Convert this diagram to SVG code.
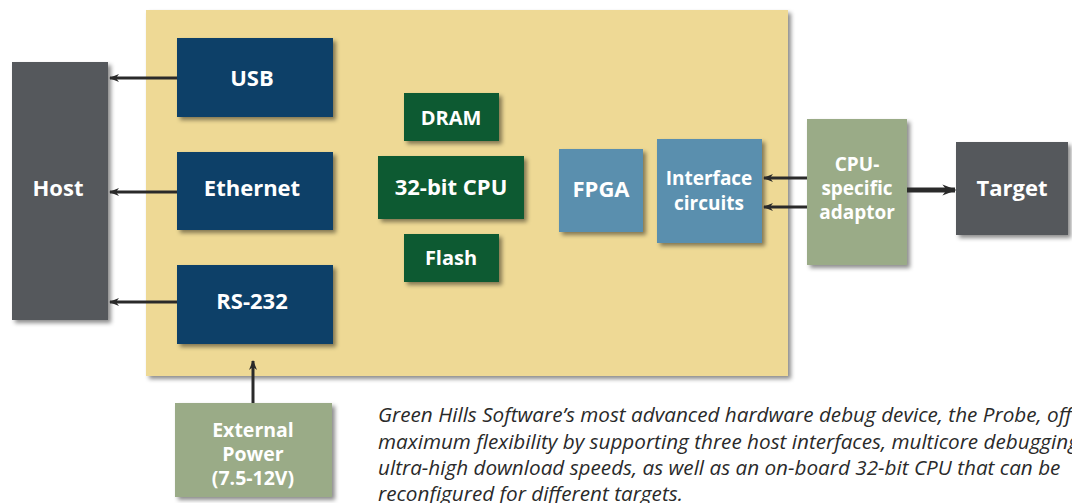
<svg xmlns="http://www.w3.org/2000/svg" width="1072" height="503" viewBox="0 0 1072 503">
<defs>
<filter id="sh" x="-10%" y="-10%" width="130%" height="130%">
<feDropShadow dx="3" dy="3" stdDeviation="2" flood-color="#000" flood-opacity="0.45"/>
</filter>
<marker id="ah" viewBox="0 0 10 10" refX="9" refY="5" markerWidth="10" markerHeight="10" markerUnits="userSpaceOnUse" orient="auto">
<path d="M0,1 L10,5 L0,9 L3,5 Z" fill="#2a2a2a"/>
</marker>
<marker id="ahb" viewBox="0 0 10 10" refX="9" refY="5" markerWidth="14" markerHeight="14" markerUnits="userSpaceOnUse" orient="auto">
<path d="M0,1 L10,5 L0,9 L3,5 Z" fill="#2a2a2a"/>
</marker>
</defs>
<style>
.lbl{font-family:"Open Sans","Noto Sans","Liberation Sans",sans-serif;font-weight:700;fill:#fff;text-anchor:middle;font-size:22px}
.ml{font-size:19px}
.pw{font-size:19.5px}
.cap{font-family:"Open Sans","Noto Sans","Liberation Sans",sans-serif;font-style:italic;fill:#2a2a2a;font-size:20.7px}
.navy{fill:#0f3f68}
.grn{fill:#0b5a30}
.blue{fill:#5a8fae}
.sage{fill:#9aab87}
.grey{fill:#54585b}
.con{stroke:#2a2a2a;stroke-width:3;fill:none}
</style>
<rect width="1072" height="503" fill="#fff"/>
<g id="board"><rect x="146" y="10" width="642" height="366" fill="#eed995" filter="url(#sh)"/></g>
<g id="host"><rect class="grey" x="12" y="62" width="96" height="258" filter="url(#sh)"/><text class="lbl" x="58" y="196">Host</text></g>
<g id="usb"><rect class="navy" x="177" y="38" width="156" height="79" filter="url(#sh)"/><text class="lbl" x="252" y="86">USB</text></g>
<g id="ethernet"><rect class="navy" x="177" y="152" width="156" height="78" filter="url(#sh)"/><text class="lbl" x="252" y="196">Ethernet</text></g>
<g id="rs232"><rect class="navy" x="177" y="265" width="156" height="79" filter="url(#sh)"/><text class="lbl" x="252" y="309">RS-232</text></g>
<g id="dram"><rect class="grn" x="404" y="93" width="95" height="48" filter="url(#sh)"/><text class="lbl" x="451" y="125" style="font-size:20px">DRAM</text></g>
<g id="cpu"><rect class="grn" x="378" y="156" width="146" height="63" filter="url(#sh)"/><text class="lbl" x="451" y="195">32-bit CPU</text></g>
<g id="flash"><rect class="grn" x="404" y="234" width="95" height="48" filter="url(#sh)"/><text class="lbl" x="451" y="265" style="font-size:20px">Flash</text></g>
<g id="fpga"><rect class="blue" x="559" y="149" width="84" height="83" filter="url(#sh)"/><text class="lbl" x="601" y="197">FPGA</text></g>
<g id="iface"><rect class="blue" x="657" y="139" width="105" height="104" filter="url(#sh)"/><text class="lbl ml" x="709" y="185">Interface</text><text class="lbl ml" x="709" y="210">circuits</text></g>
<g id="adaptor"><rect class="sage" x="807" y="119" width="100" height="146" filter="url(#sh)"/><text class="lbl ml" x="857" y="171">CPU-</text><text class="lbl ml" x="857" y="195">specific</text><text class="lbl ml" x="857" y="219">adaptor</text></g>
<g id="target"><rect class="grey" x="956" y="142" width="112" height="93" filter="url(#sh)"/><text class="lbl" x="1012" y="196">Target</text></g>
<g id="power"><rect class="sage" x="175" y="403" width="157" height="94" filter="url(#sh)"/><text class="lbl pw" x="253" y="437">External</text><text class="lbl pw" x="253" y="461">Power</text><text class="lbl pw" x="253" y="485">(7.5-12V)</text></g>
<g id="connectors">
<line class="con" x1="177" y1="78" x2="110" y2="78" marker-end="url(#ah)"/>
<line class="con" x1="177" y1="192" x2="110" y2="192" marker-end="url(#ah)"/>
<line class="con" x1="177" y1="302" x2="110" y2="302" marker-end="url(#ah)"/>
<line class="con" x1="807" y1="178" x2="764" y2="178" marker-end="url(#ah)"/>
<line class="con" x1="807" y1="207" x2="764" y2="207" marker-end="url(#ah)"/>
<line class="con" x1="907" y1="190" x2="955" y2="190" marker-end="url(#ahb)" style="stroke-width:5"/>
<line class="con" x1="253" y1="403" x2="253" y2="361" marker-end="url(#ah)"/>
</g>
<g id="caption">
<text class="cap" x="378" y="422">Green Hills Software’s most advanced hardware debug device, the Probe, off</text>
<text class="cap" x="378" y="449">maximum flexibility by supporting three host interfaces, multicore debugging</text>
<text class="cap" x="378" y="475">ultra-high download speeds, as well as an on-board 32-bit CPU that can be</text>
<text class="cap" x="378" y="501">reconfigured for different targets.</text>
</g>
</svg>
